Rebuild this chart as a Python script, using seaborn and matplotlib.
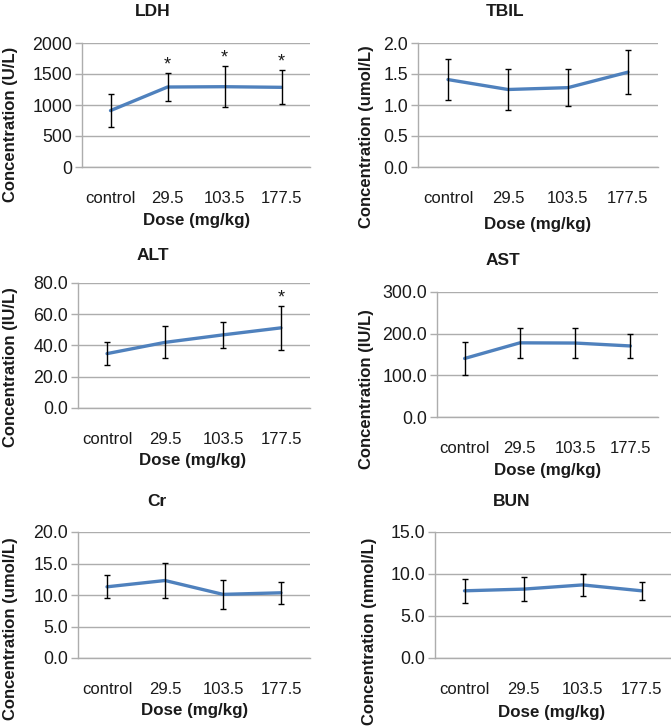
import matplotlib
matplotlib.use("Agg")
import matplotlib.pyplot as plt
import seaborn as sns
import pandas as pd
from matplotlib.ticker import FormatStrFormatter

# dose groups
doses = ["control", "29.5", "103.5", "177.5"]

# mean and SD
ldh_mean = [910, 1290, 1295, 1285]
ldh_sd = [270, 222, 330, 275]
tbil_mean = [1.41, 1.25, 1.28, 1.53]
tbil_sd = [0.33, 0.33, 0.30, 0.35]
alt_mean = [34.8, 42.0, 46.8, 51.3]
alt_sd = [7.5, 10.3, 8.1, 13.9]
ast_mean = [140.5, 178.0, 177.5, 170.5]
ast_sd = [38.7, 35.3, 35.0, 29.0]
cr_mean = [11.3, 12.3, 10.1, 10.35]
cr_sd = [1.8, 2.75, 2.35, 1.75]
bun_mean = [8.0, 8.2, 8.7, 8.0]
bun_sd = [1.45, 1.45, 1.35, 1.05]

# significance marks
ldh_sig = [False, True, True, True]
alt_sig = [False, False, False, True]

W, H = 671, 728
sns.set_style("white")
plt.rcParams["font.family"] = ["Liberation Sans", "DejaVu Sans"]

fig = plt.figure(figsize=(W / 100, H / 100), dpi=100)

panels = [
    # title, ylabel, mean, sd, sig, ymax, ystep, fmt, axes box (px l, r, top, bottom),
    # title pos, ylabel pos, xlabel pos (px)
    ("LDH", "Concentration (U/L)", ldh_mean, ldh_sd, ldh_sig, 2000, 500, "%d",
     (82, 310, 43, 167), (153, 11), (11, 124), (197, 221)),
    ("TBIL", "Concentration (umol/L)", tbil_mean, tbil_sd, None, 2.0, 0.5, "%.1f",
     (418, 658, 43, 167), (505, 11), (367, 137), (538, 224)),
    ("ALT", "Concentration (IU/L)", alt_mean, alt_sd, alt_sig, 80, 20, "%.1f",
     (78, 310, 283, 408), (153, 255), (11, 367), (193, 461)),
    ("AST", "Concentration (IU/L)", ast_mean, ast_sd, None, 300, 100, "%.1f",
     (437, 658, 292, 417), (503, 260), (367, 389), (548, 470)),
    ("Cr", "Concentration (umol/L)", cr_mean, cr_sd, None, 20, 5, "%.1f",
     (78, 310, 532, 658), (157, 501), (11, 629), (195, 711)),
    ("BUN", "Concentration (mmol/L)", bun_mean, bun_sd, None, 15, 5, "%.1f",
     (435, 671, 532, 658), (512, 501), (370, 631), (552, 713)),
]

grid_col = "#ADADAD"
line_col = "#4F81BD"
txt_col = "#1A1A1A"

for (title, ylab, mean, sd, sig, ymax, ystep, fmt, box, tpos, ypos, xpos) in panels:
    l, r, t, b = box
    ax = fig.add_axes([l / W, 1 - b / H, (r - l) / W, (b - t) / H])
    df = pd.DataFrame({"dose": doses, "value": mean})
    sns.lineplot(data=df, x="dose", y="value", sort=False, color=line_col,
                 linewidth=2.4, ax=ax, zorder=3)
    ax.errorbar(doses, mean, yerr=sd, fmt="none", ecolor="black",
                elinewidth=1.0, capsize=2.5, capthick=1.0, zorder=4)
    if sig is not None:
        for d, m, s, flag in zip(doses, mean, sd, sig):
            if flag:
                ax.text(d, m + s, "*", ha="center", va="bottom", fontsize=13,
                        color=txt_col)
    ax.set_xlim(-0.5, 3.5)
    ax.set_ylim(0, ymax)
    ticks = [i * ystep for i in range(int(round(ymax / ystep)) + 1)]
    ax.set_yticks(ticks)
    ax.yaxis.set_major_formatter(FormatStrFormatter(fmt))
    ax.yaxis.grid(True, color=grid_col, linewidth=1.0)
    ax.set_axisbelow(True)
    for s in ["top", "right"]:
        ax.spines[s].set_visible(False)
    for s in ["left", "bottom"]:
        ax.spines[s].set_color(grid_col)
        ax.spines[s].set_linewidth(1.0)
    ax.tick_params(axis="y", length=5, width=1, color=grid_col, labelsize=12.8,
                   labelcolor=txt_col, pad=2, left=True)
    ax.tick_params(axis="x", length=0, labelsize=12, labelcolor=txt_col, pad=17)
    ax.set_xlabel("")
    ax.set_ylabel("")
    fig.text(tpos[0] / W, 1 - tpos[1] / H, title, ha="center", va="center",
             fontsize=12.5, fontweight="bold", color=txt_col)
    fig.text(ypos[0] / W, 1 - ypos[1] / H, ylab, ha="center", va="center",
             rotation=90, fontsize=12, fontweight="bold", color=txt_col)
    fig.text(xpos[0] / W, 1 - xpos[1] / H, "Dose (mg/kg)", ha="center", va="center",
             fontsize=12.2, fontweight="bold", color=txt_col)

fig.savefig("out.png", dpi=100)
